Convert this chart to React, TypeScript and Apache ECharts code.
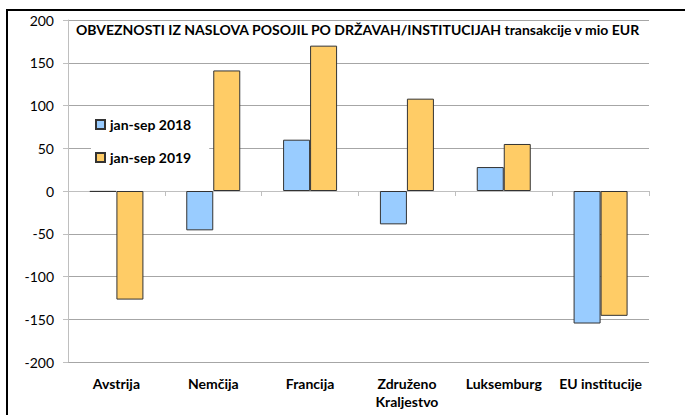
import React, { useEffect, useRef } from "react";
import * as echarts from "echarts";

const categories = ["Avstrija", "Nemčija", "Francija", "Združeno\nKraljestvo", "Luksemburg", "EU institucije"];
const seriesNames = ["jan-sep 2018", "jan-sep 2019"];
const values2018 = [-1, -46, 60, -39, 28, -155];
const values2019 = [-127, 141, 170, 108, 55, -146];
const titleText = "OBVEZNOSTI IZ NASLOVA POSOJIL PO DRŽAVAH/INSTITUCIJAH transakcije v mio EUR";

const FONT = "Lato";

export default function App() {
  const ref = useRef<HTMLDivElement>(null);
  useEffect(() => {
    if (!ref.current) return;
    const chart = echarts.init(ref.current, null, { renderer: "svg" });
    chart.setOption({
      animation: false,
      backgroundColor: "#ffffff",
      textStyle: { fontFamily: FONT },
      title: {
        text: titleText,
        left: 76,
        top: 22,
        padding: 0,
        textStyle: { fontFamily: FONT, fontSize: 14, fontWeight: "bold", color: "#000" },
      },
      legend: {
        orient: "vertical",
        left: 91,
        top: 109,
        padding: [8, 18, 8, 4],
        itemGap: 18,
        itemWidth: 9,
        itemHeight: 9,
        backgroundColor: "#ffffff",
        icon: "rect",
        data: seriesNames,
        textStyle: { fontFamily: FONT, fontSize: 14, fontWeight: "bold", color: "#000", lineHeight: 15 },
      },
      grid: { left: 68, right: 36, top: 20, bottom: 53, containLabel: false },
      xAxis: [
        {
          type: "category",
          data: categories,
          position: "bottom",
          axisLine: { onZero: true, lineStyle: { color: "#BFBFBF", width: 1 } },
          axisTick: { show: true, length: 5, lineStyle: { color: "#BFBFBF" } },
          axisLabel: { show: false },
          splitLine: { show: false },
        },
        {
          type: "category",
          data: categories,
          position: "bottom",
          axisLine: { show: false, onZero: false },
          axisTick: { show: false },
          axisLabel: {
            margin: 12,
            fontFamily: FONT,
            fontSize: 14,
            fontWeight: "bold",
            color: "#000",
            lineHeight: 18,
            interval: 0,
          },
          splitLine: { show: false },
        },
      ],
      yAxis: {
        type: "value",
        min: -200,
        max: 200,
        interval: 50,
        axisLine: { show: true, lineStyle: { color: "#BFBFBF" } },
        axisTick: { show: true, length: 5, lineStyle: { color: "#BFBFBF" } },
        axisLabel: { margin: 14, fontFamily: FONT, fontSize: 14, color: "#000" },
        splitLine: { show: true, lineStyle: { color: "#A6A6A6", width: 1 } },
      },
      series: [
        {
          name: seriesNames[0],
          type: "bar",
          xAxisIndex: 0,
          data: values2018,
          barWidth: 27,
          barGap: "0%",
          itemStyle: { color: "#99CCFF", borderColor: "#333333", borderWidth: 1 },
        },
        {
          name: seriesNames[1],
          type: "bar",
          xAxisIndex: 0,
          data: values2019,
          barWidth: 27,
          barGap: "0%",
          itemStyle: { color: "#FFCC66", borderColor: "#333333", borderWidth: 1 },
        },
      ],
      graphic: [
        { type: "rect", left: 6, top: 9, shape: { width: 2, height: 406 }, style: { fill: "#000" }, z: 100 },
        { type: "rect", left: 6, top: 9, shape: { width: 679, height: 2 }, style: { fill: "#000" }, z: 100 },
      ],
    });
    return () => chart.dispose();
  }, []);
  return <div ref={ref} style={{ position: "fixed", left: 0, top: 0, width: 685, height: 415 }} />;
}
